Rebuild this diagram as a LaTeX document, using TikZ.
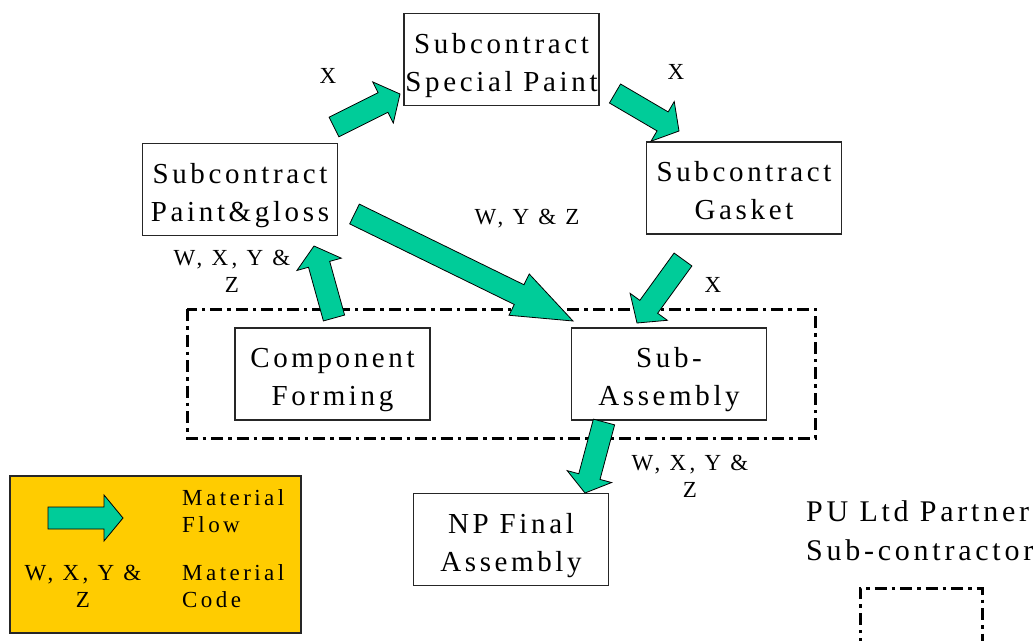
\documentclass[tikz,border=0pt]{standalone}
\usepackage{fontspec}
\setmainfont{Liberation Serif}[LetterSpace=12.5]
\newfontfamily\codefont{Liberation Serif}[LetterSpace=15]
\usepackage{tikz}
\usetikzlibrary{calc}
\definecolor{flowgreen}{RGB}{0,204,153}
\definecolor{legendyellow}{RGB}{255,204,0}
\tikzstyle{stage}=[draw=black!85,line width=1.2pt,align=center,minimum width=195pt,minimum height=92pt,inner sep=0pt,text height=63pt,text depth=0pt,font=\fontsize{29}{38}\selectfont]
\tikzstyle{flow}=[draw=black,line width=0.8pt,fill=flowgreen,line join=miter]
\newcommand{\shaftw}{11pt}
\newcommand{\headw}{23pt}
% block arrow from #1 to #2, head length #3
\newcommand{\flowarrow}[3]{%
  \coordinate (fh) at ($(#2)!#3!(#1)$);
  \draw[flow] ($(#1)!\shaftw!90:(#2)$) -- ($(fh)!\shaftw!90:(#2)$)
    -- ($(fh)!\headw!90:(#2)$) -- (#2) -- ($(fh)!\headw!-90:(#2)$)
    -- ($(fh)!\shaftw!-90:(#2)$) -- ($(#1)!\shaftw!-90:(#2)$) -- cycle;}

\begin{document}
\begin{tikzpicture}[x=1pt,y=-1pt]
    \tikzstyle{code}=[align=center,inner sep=0pt,font=\codefont\fontsize{23}{27}\selectfont]
    \tikzstyle{group}=[draw=black,line width=3pt,dash pattern=on 12pt off 5pt on 3.5pt off 5pt]

    \useasboundingbox (0,0) rectangle (1036,640);

    % plant boundary
    \draw[group] (187,309) rectangle (815,438);

    \node[stage] (sp) at (501.5,59.5) {Subcontract\\Special Paint};
    \node[stage] (pg) at (240,189.5)  {Subcontract\\Paint\&gloss};
    \node[stage] (gk) at (744,188)    {Subcontract\\Gasket};
    \node[stage] (cf) at (332.5,374)  {Component\\Forming};
    \node[stage] (sa) at (669,374)    {Sub-\\Assembly};
    \node[stage] (np) at (511,539.5)  {NP Final\\Assembly};

    \coordinate (pg-sp-a) at (334,127);   \coordinate (pg-sp-b) at (400,94);
    \coordinate (sp-gk-a) at (615,93.5);  \coordinate (sp-gk-b) at (679,131);
    \coordinate (pg-sa-a) at (354.5,214); \coordinate (pg-sa-b) at (573,321);
    \coordinate (gk-sa-a) at (683,259.5); \coordinate (gk-sa-b) at (637,323);
    \coordinate (cf-pg-a) at (334,318);   \coordinate (cf-pg-b) at (314,246);
    \coordinate (sa-np-a) at (604,422);   \coordinate (sa-np-b) at (585,493);

    \flowarrow{pg-sp-a}{pg-sp-b}{19pt}
    \flowarrow{sp-gk-a}{sp-gk-b}{19pt}
    \flowarrow{pg-sa-a}{pg-sa-b}{60pt}
    \flowarrow{gk-sa-a}{gk-sa-b}{20pt}
    \flowarrow{cf-pg-a}{cf-pg-b}{19pt}
    \flowarrow{sa-np-a}{sa-np-b}{17pt}

    % material codes
    \node[code] (c-sp) at (328,76)    {X};
    \node[code] (c-gk) at (676,72)    {X};
    \node[code] (c-sa) at (527,219)   {W, Y \& Z};
    \node[code] (c-pg) at (232,271.5) {W, X, Y \&\\Z};
    \node[code] (c-gs) at (713,285)   {X};
    \node[code] (c-np) at (690,476)   {W, X, Y \&\\Z};

    % legend
    \draw[draw=black!85,line width=1.2pt,fill=legendyellow] (10,476) rectangle (301,633);
    \coordinate (lg-a) at (48,518); \coordinate (lg-b) at (123,518);
    \flowarrow{lg-a}{lg-b}{19pt}
    \node[code,align=left,anchor=west] (lg-flow) at (182,511) {Material\\Flow};
    \node[code] (lg-w) at (83,586) {W, X, Y \&\\Z};
    \node[code,align=left,anchor=west] (lg-code) at (182,586) {Material\\Code};

    \node[align=left,anchor=west,inner sep=0pt,font=\fontsize{30}{39}\selectfont] (partner) at (806,530.5) {PU Ltd Partner\\Sub-contractor};
    \draw[group] (860,650) -- (860,588) -- (982,588) -- (982,650);
\end{tikzpicture}
\end{document}
